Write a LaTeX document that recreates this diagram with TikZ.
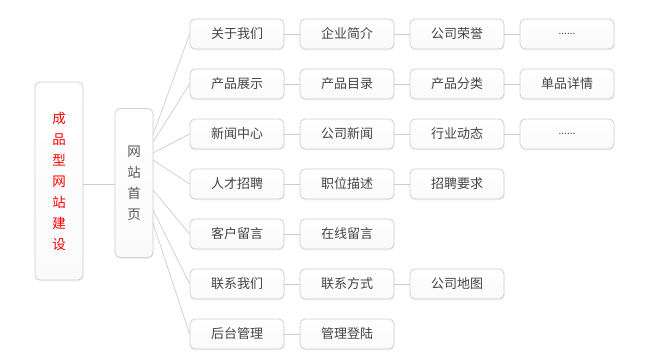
\documentclass[tikz,border=0pt]{standalone}
\usepackage{fontspec}
\setmainfont{Noto Sans CJK SC}
\usetikzlibrary{shadows,calc}
\definecolor{bordergray}{HTML}{CFCFCF}
\definecolor{linegray}{HTML}{CCCCCC}
\definecolor{txtgray}{HTML}{444444}
\definecolor{rootred}{HTML}{FF0000}
\newcommand{\moredots}{{\fontsize{10}{12}\selectfont ......}}
\tikzset{
  box/.style={draw=bordergray, line width=0.8pt, rounded corners=5pt,
    top color=white, bottom color=black!2,
    drop shadow={shadow xshift=0.6pt, shadow yshift=-1.4pt, fill=black!10, opacity=0.5},
    text=txtgray, font=\fontsize{13}{15}\selectfont, inner sep=0pt},
  itembox/.style={box, minimum width=94pt, minimum height=30pt},
  link/.style={draw=linegray, line width=0.7pt},
}
\begin{document}
\begin{tikzpicture}[x=1pt,y=-1pt]
\useasboundingbox (0,0) rectangle (656,361);
% root box
\node[box, minimum width=48pt, minimum height=198pt, text=rootred,
      align=center, font=\fontsize{13.5}{21}\selectfont] (root) at (59,181)
  {成\\品\\型\\网\\站\\建\\设};
% home box
\node[box, minimum width=38pt, minimum height=149pt,
      align=center, font=\fontsize{13.5}{21}\selectfont, text=txtgray!90] (home) at (134,183)
  {网\\站\\首\\页};
\draw[link] (root.east |- 0,184) -- (home.west |- 0,184);
% rows
\foreach \r/\y/\a/\b/\c/\d/\n in {
  1/34/关于我们/企业简介/公司荣誉/\moredots/4,
  2/84/产品展示/产品目录/产品分类/单品详情/4,
  3/134/新闻中心/公司新闻/行业动态/\moredots/4,
  4/184/人才招聘/职位描述/招聘要求/x/3,
  5/234/客户留言/在线留言/x/x/2,
  6/284/联系我们/联系方式/公司地图/x/3,
  7/334/后台管理/管理登陆/x/x/2}{
  \node[itembox] (r\r c1) at (237,\y) {\a};
  \node[itembox] (r\r c2) at (347,\y) {\b};
  \draw[link] (r\r c1.east) -- (r\r c2.west);
  \ifnum\n>2
    \node[itembox] (r\r c3) at (457,\y) {\c};
    \draw[link] (r\r c2.east) -- (r\r c3.west);
  \fi
  \ifnum\n>3
    \node[itembox] (r\r c4) at (567,\y) {\d};
    \draw[link] (r\r c3.east) -- (r\r c4.west);
  \fi
}
% fan-out from home page
\foreach \r/\sy in {1/135,2/142,3/153,4/160,5/190,6/210,7/223}{
  \coordinate (s\r) at (153,\sy);
  \draw[link] (s\r) -- (r\r c1.west);
}
\end{tikzpicture}
\end{document}
